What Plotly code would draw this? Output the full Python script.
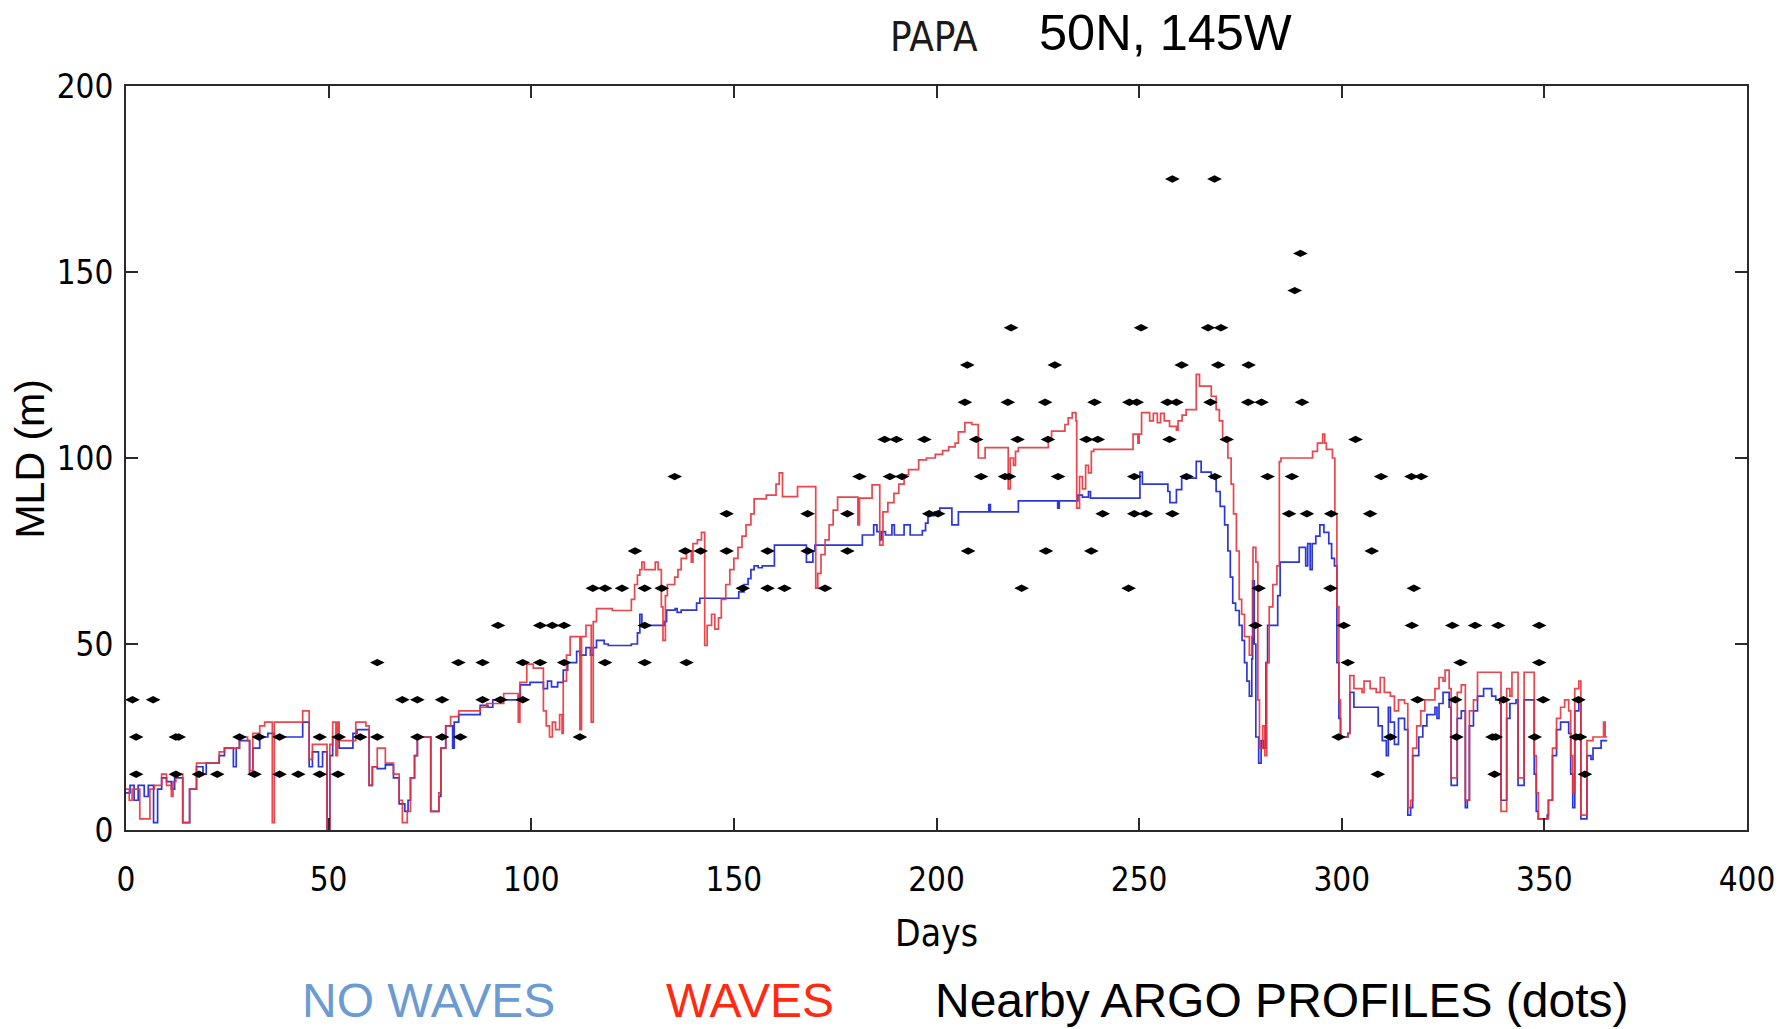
import plotly.graph_objects as go

# ---- WAVES run (red): mixed-layer depth, step changes at these days ----
wave_day = [0, 0.8, 1.5, 3.4, 5.9, 7, 8.8, 10, 11.2, 11.6, 12.3, 14, 15.7, 17.4, 23, 24.3, 28, 30, 30.5,
            31.3, 33, 34.2, 36.1, 36.6, 43.6, 45.2, 46, 49.6, 50.3, 51, 51.8, 52.2, 52.6, 56.7, 59.2, 60,
            60.8, 62, 64, 66, 67.4, 68.2, 69.4, 70.2, 71.2, 71.9, 75.2, 77.2, 77.7, 78.9, 80.1, 82.1, 87.4,
            89, 93.2, 96.8, 97.2, 98.9, 100.5, 103, 103.7, 104.5, 105.2, 106, 107, 107.6, 107.9, 108.7,
            109.6, 112, 112.4, 113.5, 114.8, 115.3, 116.1, 120, 124.7, 125.5, 126.2, 126.8, 127.3, 127.9,
            130.6, 131.3, 132.1, 132.5, 133.1, 133.6, 135.4, 136.2, 137, 138.3, 139.5, 139.9, 141, 142,
            142.8, 143.4, 144.5, 145.3, 146.2, 146.9, 148, 149, 150, 151, 152, 153, 154.2, 155, 158, 160.4,
            161.2, 162, 165.7, 170.2, 170.7, 171.5, 172.5, 173.5, 174.5, 175.6, 180.6, 181, 184.1, 186,
            186.8, 188, 189.5, 190.7, 192, 193.1, 195.6, 197.5, 199.7, 201.5, 203, 204.6, 205.4, 207,
            208.7, 210.3, 212, 217.7, 218.2, 219, 219.5, 220.2, 227.6, 228.4, 231.7, 232.5, 233.5, 234.4,
            234.6, 235.3, 236, 236.8, 237.5, 238.2, 238.8, 248.5, 249.7, 250, 250.6, 252.6, 253.5, 254.5,
            255.3, 256.2, 257.5, 259.2, 259.6, 260.6, 261.6, 264.1, 264.9, 267.8, 269, 269.8, 270.6, 271.9,
            272.7, 273.3, 274, 274.7, 275.3, 276, 277.2, 277.8, 278.1, 278.8, 279.3, 279.7, 280.5, 281,
            281.5, 282.1, 283, 284, 284.6, 285, 292.8, 294, 295.3, 295.8, 296.2, 297.7, 298.3, 298.8,
            299.3, 299.7, 301.5, 302, 303, 305, 305.5, 307, 308.5, 309.5, 310.5, 312, 313, 314, 315.5,
            316.3, 317, 317.5, 318.5, 319.5, 320.5, 322, 323, 324, 325, 325.5, 326.5, 327, 328, 328.5,
            329.5, 330.5, 331, 331.5, 332.5, 333.5, 339, 339.3, 340, 340.7, 341.5, 342, 343, 343.5, 344.8,
            345, 347, 347.5, 348, 348.5, 350.7, 351, 352, 353, 354, 355, 356, 356.5, 357, 357.5, 358.5,
            359, 360, 360.5, 362, 364, 364.6, 365, 365.5]
wave_mld = [11, 8, 11, 3, 11, 12, 15, 12, 9, 13, 15, 2, 11, 18, 21, 22, 25, 24, 16,
            26, 28, 29, 2, 29, 32, 19, 23, 0, 23, 29, 20, 29, 24, 29, 28, 12,
            17, 22, 18, 15, 8, 2, 5, 14, 20, 25, 5, 10, 22, 28, 30.5, 32, 33,
            34, 36.7, 29, 39.7, 44.6, 43.5, 32, 28, 25, 29, 27, 31, 26, 40, 47,
            52, 27, 52, 55, 29, 56, 59.5, 59, 62, 66, 68.5, 70, 72, 70,
            72, 70, 60, 51, 63, 66, 68, 70, 73, 75, 72, 77, 78, 80,
            49.6, 55, 58, 54, 57, 62, 66, 70, 73, 76, 79, 82, 85, 89, 90, 93,
            96, 89.6, 92.3, 65, 69, 74, 78, 82, 86, 89.5, 82, 89.2, 92.8, 76.6,
            85.5, 88, 90.5, 93, 95.5, 96.9, 99.5, 100, 101, 102, 103, 104, 107, 109.5,
            109, 100, 102.8, 91.7, 100, 98, 101.8, 102.8, 105.5, 107.2, 109, 110.8, 112.2, 110,
            86.5, 95, 91.7, 98, 96, 101.8, 102.3, 106.4, 104, 106.4, 112.2, 110, 112, 109.5,
            112, 110, 108.5, 107.5, 110, 111.5, 113, 122.5, 119.3, 116.6, 113, 110, 105, 100,
            93, 85, 75, 62, 58, 52, 47, 52, 76, 72, 35, 22, 28, 20,
            45, 60, 66, 71, 99, 100, 101.8, 104, 106.4, 104, 102.3, 100, 85, 60,
            35, 25, 26, 41.5, 38, 37, 40, 38, 37, 41, 37, 36, 32, 35, 34,
            6, 8, 22, 28, 32, 35, 35, 38, 41, 40, 43, 38, 14, 14, 37,
            39, 8, 8, 32, 35, 42.4, 42.4, 5, 5, 38, 36, 42.4, 42.4, 14, 14,
            42.4, 42.4, 20, 10, 3, 3, 8, 22, 30, 33, 35, 32, 20, 10, 38, 40,
            4, 4, 24, 25, 25, 29, 25, 25]

# ---- NO WAVES run (blue) ----
nowave_day = [0, 1, 2, 3, 4.5, 5.5, 6.8, 7.8, 8.8, 10, 11.2, 12, 14, 15.7, 17.4, 19, 19.8, 23, 24.3,
              26.5, 27.2, 28, 30.5, 31.3, 33, 35, 36.6, 43.6, 45.2, 46, 47.5, 48.5, 49.6, 50.3, 51,
              52.6, 56, 57, 59.2, 60, 60.8, 62, 64, 66, 67.4, 68.8, 69.6, 70.2, 71.2, 71.9, 75.2, 77.2,
              77.7, 78.9, 80.6, 81, 82.1, 87.4, 89.3, 90.5, 93, 96.8, 97.3, 99.7, 103, 104, 105, 106.5,
              107.9, 109, 110.4, 111.2, 112, 113.5, 114.6, 115.3, 116.1, 118, 119, 124.7, 126.2, 126.8,
              127.3, 132.8, 133.4, 135.5, 136, 137, 140.8, 141.6, 151.2, 152.5, 153.5, 154.2, 155, 156,
              157, 160, 167.9, 169.5, 170, 179.2, 181.7, 184.5, 185.3, 186, 186.5, 187.4, 189, 189.6,
              192, 193.5, 196.5, 197.3, 197.9, 199.5, 200.8, 203.8, 205.4, 212.9, 213.3, 220.2, 229.9,
              230.3, 234.9, 236, 237.5, 238, 239.5, 250.2, 250.8, 257.1, 257.6, 259.2, 260.5, 264.1,
              265.3, 267.8, 269, 270, 271.1, 271.9, 272.5, 273.1, 273.8, 274.7, 275.4, 276, 276.6,
              277.2, 277.8, 278, 278.4, 278.8, 279.5, 280.1, 280.7, 281.3, 281.7, 284.2, 284.8, 289.5,
              291.1, 291.6, 292.2, 292.7, 293.6, 294.6, 295.6, 296.8, 297.5, 298.2, 298.8, 299.3, 299.7,
              301.5, 302, 303, 308, 309, 310, 311, 311.5, 312, 313, 314, 315.5, 316.3, 317, 317.5, 319,
              320, 321, 323, 323.5, 324, 325, 326.5, 327, 328, 328.5, 329.5, 330.5, 331, 331.5, 332.5,
              333.5, 335, 337, 338, 339, 339.3, 340, 340.7, 341.5, 343, 343.5, 344.8, 345, 347, 347.5,
              348, 348.5, 350.7, 351, 352, 353, 354, 355, 356, 356.5, 357, 357.5, 358.5, 359, 360,
              360.5, 361.5, 362, 364, 365.5]
nowave_mld = [10, 12, 8, 12, 9, 12, 2, 11, 14, 13, 11, 14, 2, 11, 17, 15, 18, 20, 22,
              17, 22, 24, 15, 22, 25, 26, 25, 29, 17, 21, 17, 21, 0, 20, 25,
              22, 26, 27, 27, 12, 17, 16.5, 17.5, 14, 7, 5, 8, 14, 20, 25, 5, 9,
              22, 28, 22, 29, 31, 33.5, 33, 35, 35, 36, 39, 39.7, 38, 40, 38.5, 39.7,
              43, 45, 45, 48, 47, 49, 47, 49, 51, 50, 49.6, 50, 53, 58,
              55, 56, 59.1, 59.5, 58.5, 59.1, 61, 62.3, 64, 66, 67.6, 70, 71, 70.5,
              71, 76.6, 72, 75, 76.6, 76.6, 79.3, 82, 80.2, 78, 80.2, 79.3, 82, 79.3,
              82, 79.3, 80.5, 82.5, 84.5, 85.5, 86.5, 82, 85.5, 87.5, 85.5, 88.5, 86.5,
              88.5, 90, 89.5, 91, 89.2, 89.2, 96.2, 93, 91, 88, 91.5, 94.6, 99.1,
              96.2, 94.6, 91, 87, 82, 75, 68, 61, 59, 55, 51, 45, 40,
              36, 46, 67, 50, 25, 18, 24, 22, 45, 55, 63, 72, 76,
              71, 77, 70, 77, 79, 82, 80, 77, 73, 71, 45, 30, 25,
              26, 37, 33, 33, 28, 24, 20, 33, 29, 23, 30, 27, 4, 6, 20, 25,
              28, 31, 33, 30, 34, 37, 33, 12, 12, 30, 32, 6, 8, 28, 32,
              36, 38, 36, 35, 34, 8, 8, 30, 34, 35, 12, 12, 35, 35, 15,
              5, 3, 4, 8, 20, 27, 29, 29, 26, 15, 6, 32, 35, 3, 3,
              20, 19, 22, 24, 24]

# ---- Nearby ARGO profiles (black dots) ----
argo_day = [1.6, 6.7, 2.5, 12.3, 13, 2.5, 12.3, 18, 22.5, 28, 32.8, 37.9, 31.7, 37.9, 42.5, 47.8, 47.8,
            52.5, 52.3, 57.8, 62, 62, 68.2, 71.9, 71.9, 78, 78, 82, 82.5, 88, 88, 91.8, 92.4, 97.9, 97.9,
            102.2, 102.2, 105.2, 108.1, 108.1, 112, 115.2, 118.2, 118.2, 122.4, 125.6, 128, 128, 128,
            132.2, 135.4, 138, 138.3, 141.8, 148.2, 148.2, 152.2, 158.3, 158.3, 162.5, 168.2, 168.2,
            172.5, 178, 178, 181, 187.2, 190.1, 188.5, 191.5, 197, 198.2, 200.4,
            207.6, 207, 207.8, 209.8, 211, 217.6, 218.4, 216.9, 217.9, 220, 221, 226.8, 227.5, 229.2,
            227, 230, 237, 239, 239.8, 238.2, 241, 247.4, 247.6, 249.4, 248.8, 248.8, 251.7, 250.5,
            257, 259.2, 257.5, 258.2, 258.2, 260.5, 261.7, 267, 270.2, 267.6, 268.6, 269.5, 268.7,
            271.6, 277, 276.9, 280.2, 281.7, 279.5, 278.7, 288.4, 289.8, 290.2, 287.7, 287, 291.4,
            297.4, 297.2, 299.2, 300.5,
            301.5, 303.4, 307, 307.4, 309.7, 317.2, 319.6, 317.8, 317.3, 327.3, 332.9, 338.6, 348.7,
            329.3, 348.7, 318.7, 328, 339.9, 349.7, 358.4, 312, 328.3, 337.2, 338, 347.6, 357.8, 358.8,
            308.9, 337.7, 360]
argo_mld = [35, 35, 25, 25, 25, 15, 15, 15, 15, 25, 25, 25, 15, 15, 15, 25, 15,
            25, 15, 25, 25, 45, 35, 35, 25, 35, 25, 45, 25, 45, 35, 55, 35, 45, 35,
            55, 45, 55, 55, 45, 25, 65, 65, 45, 65, 75, 65, 55, 45,
            65, 95, 75, 45, 75, 85, 75, 65, 75, 65, 65, 85, 75,
            65, 85, 75, 95, 105, 105, 95, 95, 105, 85, 85,
            125, 115, 75, 105, 95, 115, 135, 95, 95, 105, 65, 115, 105, 125,
            75, 95, 105, 115, 105, 75, 85, 65, 115, 115, 95, 85, 85, 135,
            115, 115, 105, 175, 85, 125, 95, 135, 135, 115, 175, 125, 95,
            105, 125, 115, 115, 95, 65, 55, 145, 155, 115, 95, 85, 85,
            85, 65, 25, 55,
            45, 105, 85, 75, 95, 95, 95, 65, 55, 55, 55, 55, 55,
            45, 45, 35, 35, 35, 35, 35, 25, 25, 25, 25, 25, 25, 25,
            15, 15, 15]

x_ticks = [0, 50, 100, 150, 200, 250, 300, 350, 400]
y_ticks = [0, 50, 100, 150, 200]

# page geometry (pixels) of the axes box
W, H = 1787, 1029
L, R, T, B = 126, 1756, 86, 830


def px(xp, yp):
    """Convert page pixels to paper coordinates of the axes box."""
    return (xp - L) / (R - L), (B - yp) / (B - T)


NARROW = "Liberation Sans Narrow, Arial Narrow, DejaVu Sans Condensed, Liberation Sans, sans-serif"
SANS = "Liberation Sans, Arial, Helvetica, sans-serif"

fig = go.Figure()
fig.add_trace(go.Scatter(x=nowave_day, y=nowave_mld, mode="lines", line_shape="hv",
                         line=dict(color="#2b37d8", width=1.7), name="NO WAVES"))
fig.add_trace(go.Scatter(x=wave_day, y=wave_mld, mode="lines", line_shape="hv",
                         line=dict(color="#e8323a", width=1.7), opacity=0.9, name="WAVES"))
fig.add_trace(go.Scatter(x=argo_day, y=argo_mld, mode="markers",
                         marker=dict(symbol="diamond-wide", size=10.5, color="black"),
                         name="Nearby ARGO PROFILES"))

axis_common = dict(showline=True, linecolor="#2a2a2a", linewidth=2, mirror="allticks",
                   ticks="inside", ticklen=12, tickwidth=1.5, tickcolor="#2a2a2a",
                   showgrid=False, zeroline=False,
                   tickfont=dict(family=NARROW, size=33, color="black"))

fig.update_xaxes(range=[0, 400], tickvals=x_ticks, ticktext=[str(v) for v in x_ticks],
                 ticklabelstandoff=19, **axis_common)
fig.update_yaxes(range=[0, 200], tickvals=y_ticks, ticktext=[str(v) for v in y_ticks],
                 ticklabelstandoff=4, **axis_common)

notes = [
    ("PAPA", 938, 37, NARROW, 40, "#1a1a1a", 0),
    ("50N, 145W", 1171, 33, SANS, 50.5, "black", 0),
    ("Days", 941, 933, NARROW, 37, "black", 0),
    ("MLD (m)", 29, 459, SANS, 41, "black", -90),
    ("NO WAVES", 430, 1001, SANS, 48, "#6b9bd1", 0),
    ("WAVES", 753, 1001, SANS, 48, "#ff2a12", 0),
    ("Nearby ARGO PROFILES (dots)", 1288, 1001, SANS, 48, "black", 0),
]
for text, xp, yp, fam, size, col, ang in notes:
    ax, ay = px(xp, yp)
    fig.add_annotation(text=text, x=ax, y=ay, xref="paper", yref="paper",
                       xanchor="center", yanchor="middle", showarrow=False, textangle=ang,
                       font=dict(family=fam, size=size, color=col))

fig.update_layout(width=W, height=H, showlegend=False,
                  margin=dict(l=L, r=W - R, t=T, b=H - B, pad=0),
                  plot_bgcolor="white", paper_bgcolor="white")

fig.write_html("out.html")
